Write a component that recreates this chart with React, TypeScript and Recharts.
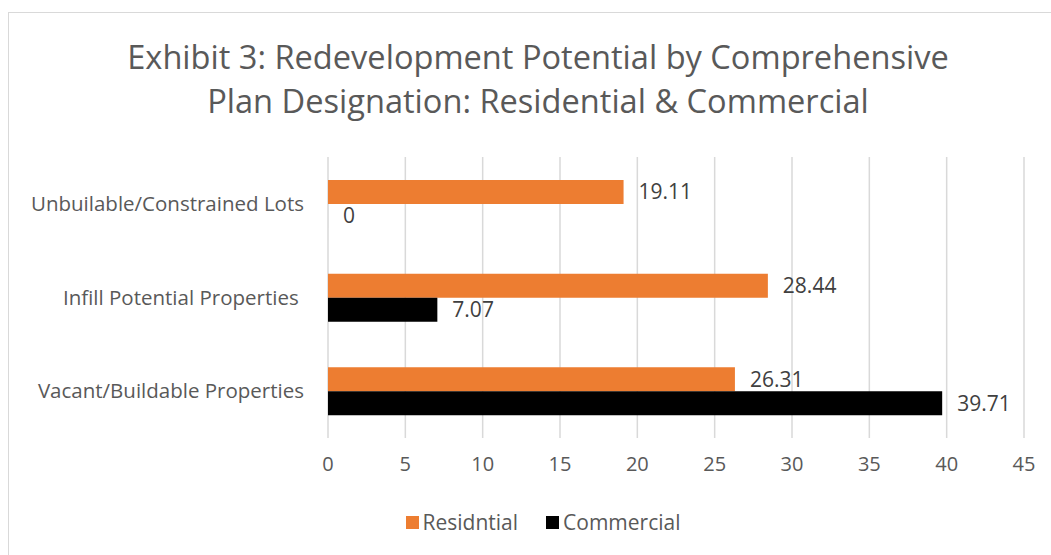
import React from 'react';
import { BarChart, Bar, XAxis, YAxis, CartesianGrid, LabelList } from 'recharts';

const categories = ['Unbuilable/Constrained Lots', 'Infill Potential Properties ', 'Vacant/Buildable Properties'];
const residential = [19.11, 28.44, 26.31];
const commercial = [0, 7.07, 39.71];
const xTicks = [0, 5, 10, 15, 20, 25, 30, 35, 40, 45];
const seriesNames = ['Residntial', 'Commercial'];
const seriesColors = ['#ED7D31', '#000000'];
const titleLines = ['Exhibit 3: Redevelopment Potential by Comprehensive', 'Plan Designation: Residential & Commercial'];

const data = categories.map((c, i) => ({ name: c, residential: residential[i], commercial: commercial[i] }));

const FONT = '"Open Sans", sans-serif';

const CatTick = (props: any) => {
  const { x, y, payload } = props;
  return (
    <text x={x} y={y} dy="0.35em" textAnchor="end" fill="#595959" fontSize={20.5} fontFamily={FONT} style={{ whiteSpace: 'pre' }}>
      {payload.value}
    </text>
  );
};

const ValueLabel = (props: any) => {
  const { x, y, width, height, value } = props;
  return (
    <text x={Number(x) + Number(width) + 15} y={Number(y) + Number(height) / 2} dy="0.35em" textAnchor="start" fill="#404040" fontSize={21} fontFamily={FONT}>
      {value}
    </text>
  );
};

export default function App() {
  return (
    <div style={{ position: 'absolute', left: 0, top: 0, width: 1051, height: 555, overflow: 'hidden', background: '#fff', fontFamily: FONT }}>
      <div style={{ position: 'absolute', left: 8, top: 12, width: 1100, height: 600, border: '1px solid #d9d9d9', boxSizing: 'border-box' }} />
      <div style={{ position: 'absolute', left: 38, top: 35, width: 1000, textAlign: 'center', color: '#595959', fontSize: 32.6, lineHeight: '44px', whiteSpace: 'nowrap' }}>
        {titleLines.map((t) => (
          <div key={t}>{t}</div>
        ))}
      </div>
      <div style={{ position: 'absolute', left: 0, top: 0 }}>
        <BarChart
          width={1051}
          height={555}
          layout="vertical"
          data={data}
          margin={{ top: 157, right: 27, bottom: 77, left: 0 }}
          barGap={0}
        >
          <CartesianGrid horizontal={false} vertical={true} stroke="#d9d9d9" strokeWidth={1.5} />
          <XAxis
            type="number"
            domain={[0, 45]}
            ticks={xTicks}
            axisLine={false}
            tickLine={false}
            tickSize={0}
            tickMargin={19}
            height={40}
            tick={{ fill: '#595959', fontSize: 20, fontFamily: FONT }}
          />
          <YAxis
            type="category"
            dataKey="name"
            width={328}
            axisLine={false}
            tickLine={false}
            tickSize={0}
            tickMargin={24}
            tick={<CatTick />}
          />
          <Bar dataKey="residential" name={seriesNames[0]} fill={seriesColors[0]} barSize={24} minPointSize={0.01} isAnimationActive={false}>
            <LabelList dataKey="residential" content={<ValueLabel />} />
          </Bar>
          <Bar dataKey="commercial" name={seriesNames[1]} fill={seriesColors[1]} barSize={24} minPointSize={0.01} isAnimationActive={false}>
            <LabelList dataKey="commercial" content={<ValueLabel />} />
          </Bar>
        </BarChart>
      </div>
      <div style={{ position: 'absolute', left: 0, top: 508, width: 1086, display: 'flex', justifyContent: 'center', alignItems: 'center', color: '#595959', fontSize: 21, lineHeight: '28px' }}>
        {seriesNames.map((n, i) => (
          <div key={n} style={{ display: 'flex', alignItems: 'center', marginRight: i === 0 ? 28 : 0 }}>
            <span style={{ display: 'inline-block', width: 13, height: 13, background: seriesColors[i], marginRight: 4 }} />
            <span>{n}</span>
          </div>
        ))}
      </div>
    </div>
  );
}
